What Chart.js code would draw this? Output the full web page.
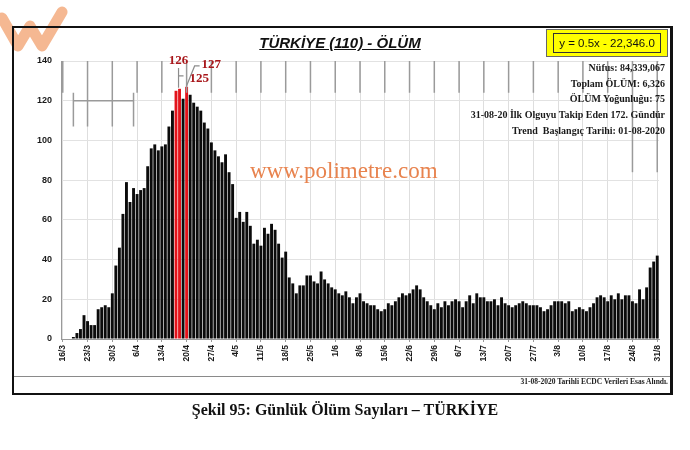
<!DOCTYPE html>
<html lang="tr">
<head>
<meta charset="utf-8">
<title>Türkiye (110) - Ölüm</title>
<script src="https://cdn.jsdelivr.net/npm/chart.js@4.4.1/dist/chart.umd.min.js"></script>
<style>
  html, body { margin: 0; padding: 0; background: #fff; }
  #wrap { position: relative; width: 690px; height: 450px; overflow: hidden; }
  #chart { position: absolute; left: 0; top: 0; }
  .frame { position: absolute; left: 12px; top: 26px; width: 656px; height: 365px;
           border: 2px solid #111; border-right-width: 3px; pointer-events: none; }
  .sep { position: absolute; left: 14px; top: 376px; width: 656px; border-top: 1px solid #8a8a8a; }
  .title { position: absolute; left: 230px; width: 220px; top: 34px; text-align: center;
           font: italic bold 15px "Liberation Sans", Arial, sans-serif; text-decoration: underline; color: #111; }
  .eq { position: absolute; left: 546px; top: 29px; width: 120px; height: 26px; background: #ffff00;
        border: 1px solid #666; }
  .eq span { position: absolute; left: 6px; top: 3px; width: 106px; height: 18px; border: 1px solid #333;
             font: 11.5px "Liberation Sans", Arial, sans-serif; line-height: 18px; text-align: center; color: #111; }
  .info { position: absolute; right: 25px; top: 60px; text-align: right;
          font: bold 10px "Liberation Serif", "Times New Roman", serif; line-height: 15.7px; color: #1a1a1a; }
  .web { position: absolute; left: 250px; top: 158px; font: 23px "Liberation Serif", serif; color: #e8834e; }
  .foot { position: absolute; right: 22px; top: 377px; font: bold 7.5px "Liberation Serif", serif; color: #222; }
  .caption { position: absolute; left: 0; width: 690px; top: 401px; text-align: center;
             font: bold 16px "Liberation Serif", "Times New Roman", serif; color: #111; }
</style>
</head>
<body>
<div id="wrap">
  <canvas id="chart" width="690" height="450"></canvas>
  <div class="frame"></div>
  <div class="sep"></div>
  <div class="title">TÜRKİYE (110) - ÖLÜM</div>
  <div class="eq"><span>y = 0.5x - 22,346.0</span></div>
  <div class="info">
    Nüfus: 84,339,067<br>
    Toplam ÖLÜM: 6,326<br>
    ÖLÜM Yoğunluğu: 75<br>
    31-08-20 İlk Olguyu Takip Eden 172. Gündür<br>
    Trend&nbsp; Başlangıç Tarihi: 01-08-2020
  </div>
  <div class="web">www.polimetre.com</div>
  <div class="foot">31-08-2020 Tarihli ECDC Verileri Esas Alındı.</div>
  <div class="caption">Şekil 95: Günlük Ölüm Sayıları – TÜRKİYE</div>
</div>
<script>
// daily deaths, 16/3 .. 31/8 (ECDC)
const deaths = [
  0, 0, 0, 1, 3, 5, 12, 9, 7, 7, 15, 16, 17, 16, 23, 37,            // 16/3 - 31/3
  46, 63, 79, 69, 76, 73, 75, 76, 87, 96, 98, 95, 97, 98, 107, 115,   // 1/4 - 16/4
  125, 126, 121, 127, 123, 119, 117, 115, 109, 106, 99, 95, 92, 89,   // 17/4 - 30/4
  93, 84, 78, 61, 64, 59, 64, 57, 48, 50, 47, 56, 53, 58, 55, 48,     // 1/5 - 16/5
  41, 44, 31, 28, 23, 27, 27, 32, 32, 29, 28, 34, 30, 28, 26,         // 17/5 - 31/5
  25, 23, 22, 24, 21, 18, 21, 23, 19, 18, 17, 17, 15, 14, 15,         // 1/6 - 15/6
  18, 17, 19, 21, 23, 22, 23, 25, 27, 25, 21, 19, 17, 15, 18,         // 16/6 - 30/6
  16, 19, 17, 19, 20, 19, 16, 19, 22, 18, 23, 21, 21, 19, 19, 20,     // 1/7 - 16/7
  17, 21, 18, 17, 16, 17, 18, 19, 18, 17, 17, 17, 16, 14, 15,         // 17/7 - 31/7
  17, 19, 19, 19, 18, 19, 14, 15, 16, 15, 14, 16, 18, 21, 22, 21,     // 1/8 - 16/8
  19, 22, 20, 23, 20, 22, 22, 19, 18, 25, 20, 26, 36, 39, 42          // 17/8 - 31/8
];
const tickLabels = ['16/3', '23/3', '30/3', '6/4', '13/4', '20/4', '27/4', '4/5', '11/5', '18/5',
  '25/5', '1/6', '8/6', '15/6', '22/6', '29/6', '6/7', '13/7', '20/7', '27/7', '3/8', '10/8',
  '17/8', '24/8', '31/8'];
const peakDays = ['17/4', '18/4', '20/4'];
const yTicks = [0, 20, 40, 60, 80, 100, 120, 140];

const days = deaths.map((_, i) => {
  const d = new Date(2020, 2, 16 + i);
  return d.getDate() + '/' + (d.getMonth() + 1);
});

const barColor = '#0b0b0b';
const peakColor = '#e3131b';
const labelRed = '#a8161a';

// grey marker lines that sit in the top of the plot (value range on the y scale)
const markerTop = 140, markerLow = 124, markerLowLate = 84;
const bracketFrom = '19/3', bracketTo = '5/4', bracketAt = 120, bracketLow = 107;

const overlay = {
  id: 'overlay',
  afterDatasetsDraw(chart) {
    const { ctx, scales: { x, y } } = chart;
    ctx.save();
    // marker lines at weekly ticks
    ctx.strokeStyle = '#9a9a9a';
    ctx.lineWidth = 1.5;
    tickLabels.forEach((t, k) => {
      const px = x.getPixelForValue(days.indexOf(t));
      const low = k >= tickLabels.length - 2 ? markerLowLate : ((k === 1 || k === 2) ? bracketLow : markerLow);
      ctx.beginPath();
      ctx.moveTo(px, y.getPixelForValue(markerTop));
      ctx.lineTo(px, y.getPixelForValue(low));
      ctx.stroke();
    });
    const bx1 = x.getPixelForValue(days.indexOf(bracketFrom));
    const bx2 = x.getPixelForValue(days.indexOf(bracketTo));
    ctx.beginPath();
    ctx.moveTo(bx1, y.getPixelForValue(bracketAt));
    ctx.lineTo(bx2, y.getPixelForValue(bracketAt));
    [bx1, bx2].forEach(px => {
      ctx.moveTo(px, y.getPixelForValue(markerLow));
      ctx.lineTo(px, y.getPixelForValue(bracketLow));
    });
    ctx.stroke();

    // peak value labels
    const i1 = days.indexOf(peakDays[1]);   // 126
    const i0 = days.indexOf(peakDays[0]);   // 125
    const i2 = days.indexOf(peakDays[2]);   // 127
    const p1 = x.getPixelForValue(i1), p2 = x.getPixelForValue(i2);
    ctx.strokeStyle = '#8c8c8c';
    ctx.lineWidth = 1.2;
    ctx.beginPath();
    ctx.moveTo(p1 - 1, y.getPixelForValue(136.5));
    ctx.lineTo(p1 - 1, y.getPixelForValue(deaths[i1]) - 1);
    ctx.moveTo(p1 - 1, y.getPixelForValue(132.5));
    ctx.lineTo(p1 + 4, y.getPixelForValue(132.5));
    ctx.moveTo(p2 + 13, y.getPixelForValue(137.5));
    ctx.lineTo(p2 + 8, y.getPixelForValue(137.5));
    ctx.lineTo(p2, y.getPixelForValue(deaths[i2]) - 1);
    ctx.stroke();

    ctx.fillStyle = labelRed;
    ctx.font = 'bold 13px "Liberation Serif", serif';
    ctx.textBaseline = 'middle';
    ctx.textAlign = 'center';
    ctx.fillText(String(deaths[i1]), p1 - 1, y.getPixelForValue(140));
    ctx.textAlign = 'left';
    ctx.fillText(String(deaths[i2]), p2 + 15, y.getPixelForValue(138));
    ctx.fillText(String(deaths[i0]), p2 + 3, y.getPixelForValue(131));
    ctx.restore();
  },
  afterDraw(chart) {
    // faint orange logo corner
    const ctx = chart.ctx;
    ctx.save();
    ctx.strokeStyle = 'rgba(242, 160, 110, 0.75)';
    ctx.lineWidth = 11;
    ctx.lineCap = 'round';
    ctx.lineJoin = 'round';
    ctx.beginPath();
    ctx.moveTo(2, 18);
    ctx.lineTo(18, 46);
    ctx.lineTo(30, 26);
    ctx.lineTo(42, 46);
    ctx.lineTo(62, 12);
    ctx.stroke();
    ctx.restore();
  }
};

new Chart(document.getElementById('chart'), {
  type: 'bar',
  data: {
    labels: days,
    datasets: [{
      data: deaths,
      backgroundColor: days.map(d => peakDays.includes(d) ? peakColor : barColor),
      barPercentage: 1,
      categoryPercentage: 0.82
    }]
  },
  plugins: [overlay],
  options: {
    responsive: false,
    animation: false,
    events: [],
    layout: { padding: { left: 0, right: 31, top: 61, bottom: 81 } },
    plugins: { legend: { display: false }, tooltip: { enabled: false } },
    scales: {
      x: {
        afterFit: (s) => { s.height = 30; },
        border: { color: '#9a9a9a' },
        grid: {
          offset: false,
          tickLength: 3,
          color: (c) => (tickLabels.includes(days[c.index]) ? '#dedede' : 'rgba(0,0,0,0)'),
          tickColor: (c) => (tickLabels.includes(days[c.index]) ? '#9a9a9a' : 'rgba(0,0,0,0)')
        },
        ticks: {
          autoSkip: false,
          minRotation: 90,
          maxRotation: 90,
          padding: 3,
          color: '#1a1a1a',
          font: { family: '"Liberation Sans", Arial, sans-serif', size: 8.5, weight: 'bold' },
          callback: (v, i) => (tickLabels.includes(days[i]) ? days[i] : '')
        }
      },
      y: {
        min: 0,
        max: 140,
        afterFit: (s) => { s.width = 61; },
        afterBuildTicks: (s) => { s.ticks = yTicks.map(v => ({ value: v })); },
        border: { color: '#9a9a9a' },
        grid: { color: '#e2e2e2', drawTicks: false },
        ticks: {
          padding: 9,
          color: '#1a1a1a',
          font: { family: '"Liberation Sans", Arial, sans-serif', size: 9, weight: 'bold' }
        }
      }
    }
  }
});
</script>
</body>
</html>
